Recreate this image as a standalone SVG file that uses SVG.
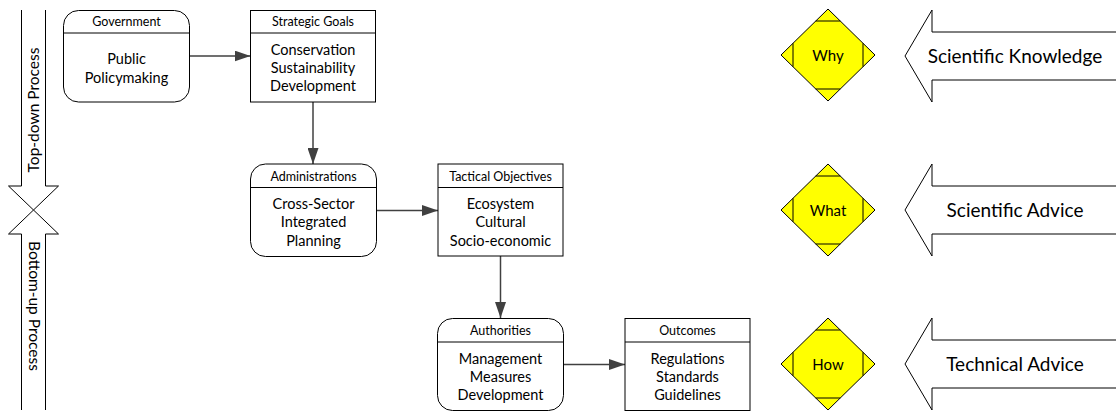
<svg xmlns="http://www.w3.org/2000/svg" width="1116" height="412" viewBox="0 0 1116 412">
  <style>
    .box { fill: #ffffff; stroke: #000000; stroke-width: 1; }
    .sep { stroke: #000000; stroke-width: 1; }
    .hdr { font-family: Lato, "Liberation Sans", sans-serif; font-size: 12.5px; fill: #000000; text-anchor: middle; }
    .body { font-family: Lato, "Liberation Sans", sans-serif; font-size: 14.5px; fill: #000000; text-anchor: middle; }
    .side { font-family: Lato, "Liberation Sans", sans-serif; font-size: 15.5px; fill: #000000; text-anchor: middle; }
    .big { font-family: Lato, "Liberation Sans", sans-serif; font-size: 19px; fill: #000000; text-anchor: middle; }
    .dlabel { font-family: Lato, "Liberation Sans", sans-serif; font-size: 15px; fill: #000000; text-anchor: middle; }
    .flow { fill: none; stroke: #404040; stroke-width: 1.5; }
    .outline { fill: #ffffff; stroke: #000000; stroke-width: 1; }
    .open { fill: none; stroke: #000000; stroke-width: 1; }
    .diamond { fill: #ffff00; stroke: #000000; stroke-width: 1; }
  </style>
  <defs>
    <marker id="head" viewBox="0 0 16 11" refX="16" refY="5.5" markerWidth="16" markerHeight="11" markerUnits="userSpaceOnUse" orient="auto">
      <path d="M0,0 L16,5.5 L0,11 Z" fill="#404040"/>
    </marker>
    <!-- decision diamond with inner corner cuts, centred on 0,0 -->
    <g id="decision">
      <polygon class="diamond" points="0,-46 47,0 0,46 -47,0"/>
      <path class="sep" d="M-12.3,-34 H12.3 M-12.3,34 H12.3 M-35,-11.7 V11.7 M35,-11.7 V11.7" fill="none"/>
    </g>
  </defs>

  <!-- vertical process arrows on the left -->
  <g id="process-arrows">
    <polyline class="open" points="21.5,10 21.5,186 8.5,186 33.5,210 58.5,186 45.5,186 45.5,10"/>
    <polyline class="open" points="21.5,410 21.5,234 8.5,234 33.5,210 58.5,234 45.5,234 45.5,410"/>
    <text class="side" transform="translate(38.5,110) rotate(-90)">Top-down Process</text>
    <text class="side" transform="translate(29,306) rotate(90)">Bottom-up Process</text>
  </g>

  <!-- connectors -->
  <g id="connectors">
    <line class="flow" x1="189" y1="56" x2="250.5" y2="56" marker-end="url(#head)"/>
    <line class="flow" x1="313" y1="102" x2="313" y2="164" marker-end="url(#head)"/>
    <line class="flow" x1="376.5" y1="210.5" x2="438" y2="210.5" marker-end="url(#head)"/>
    <line class="flow" x1="500.5" y1="256" x2="500.5" y2="318" marker-end="url(#head)"/>
    <line class="flow" x1="563" y1="364.5" x2="625" y2="364.5" marker-end="url(#head)"/>
  </g>

  <!-- actors (rounded) and outputs (square) -->
  <g id="government">
    <rect class="box" x="63.5" y="10.5" width="126" height="91.5" rx="15"/>
    <line class="sep" x1="63.5" y1="33" x2="189.5" y2="33"/>
    <text class="hdr" x="126.5" y="26">Government</text>
    <text class="body" x="126.5" y="64">Public</text>
    <text class="body" x="126.5" y="82.5">Policymaking</text>
  </g>

  <g id="strategic-goals">
    <rect class="box" x="250.5" y="10.5" width="125" height="91.5"/>
    <line class="sep" x1="250.5" y1="33" x2="375.5" y2="33"/>
    <text class="hdr" x="313" y="26">Strategic Goals</text>
    <text class="body" x="313" y="54.5">Conservation</text>
    <text class="body" x="313" y="72.5">Sustainability</text>
    <text class="body" x="313" y="90.5">Development</text>
  </g>

  <g id="administrations">
    <rect class="box" x="250.5" y="164" width="126" height="92.5" rx="15"/>
    <line class="sep" x1="250.5" y1="187.5" x2="376.5" y2="187.5"/>
    <text class="hdr" x="313.5" y="181">Administrations</text>
    <text class="body" x="313.5" y="209">Cross-Sector</text>
    <text class="body" x="313.5" y="227">Integrated</text>
    <text class="body" x="313.5" y="245.5">Planning</text>
  </g>

  <g id="tactical-objectives">
    <rect class="box" x="438" y="164" width="125" height="92"/>
    <line class="sep" x1="438" y1="187.5" x2="563" y2="187.5"/>
    <text class="hdr" x="500.5" y="181">Tactical Objectives</text>
    <text class="body" x="500.5" y="209">Ecosystem</text>
    <text class="body" x="500.5" y="227">Cultural</text>
    <text class="body" x="500.5" y="245.5">Socio-economic</text>
  </g>

  <g id="authorities">
    <rect class="box" x="437.5" y="318.5" width="126" height="92" rx="15"/>
    <line class="sep" x1="437.5" y1="342" x2="563.5" y2="342"/>
    <text class="hdr" x="500.5" y="335">Authorities</text>
    <text class="body" x="500.5" y="363.5">Management</text>
    <text class="body" x="500.5" y="381.5">Measures</text>
    <text class="body" x="500.5" y="400">Development</text>
  </g>

  <g id="outcomes">
    <rect class="box" x="625" y="318.5" width="125" height="92"/>
    <line class="sep" x1="625" y1="342" x2="750" y2="342"/>
    <text class="hdr" x="687.5" y="335">Outcomes</text>
    <text class="body" x="687.5" y="363.5">Regulations</text>
    <text class="body" x="687.5" y="381.5">Standards</text>
    <text class="body" x="687.5" y="400">Guidelines</text>
  </g>

  <!-- question diamonds -->
  <g id="why">
    <use href="#decision" x="828" y="55"/>
    <text class="dlabel" x="828" y="61">Why</text>
  </g>
  <g id="what">
    <use href="#decision" x="828" y="210"/>
    <text class="dlabel" x="828" y="216">What</text>
  </g>
  <g id="how">
    <use href="#decision" x="828" y="364"/>
    <text class="dlabel" x="828" y="370">How</text>
  </g>

  <!-- knowledge inputs -->
  <g id="scientific-knowledge">
    <polyline class="outline" points="1120,32 932,32 932,10 905,56 932,102 932,80 1120,80"/>
    <text class="big" x="1015" y="63">Scientific Knowledge</text>
  </g>
  <g id="scientific-advice">
    <polyline class="outline" points="1120,186 932,186 932,164 905,210 932,256 932,234 1120,234"/>
    <text class="big" x="1015" y="217">Scientific Advice</text>
  </g>
  <g id="technical-advice">
    <polyline class="outline" points="1120,340 932,340 932,318 905,364 932,410 932,388 1120,388"/>
    <text class="big" x="1015" y="371">Technical Advice</text>
  </g>
</svg>
